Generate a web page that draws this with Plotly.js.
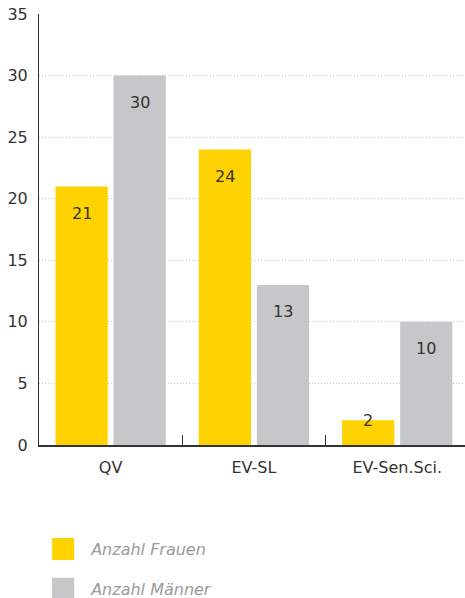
<!DOCTYPE html>
<html>
<head>
<meta charset="utf-8">
<script src="https://cdn.plot.ly/plotly-3.0.1.min.js"></script>
<style>
  html, body { margin: 0; padding: 0; background: #fff; }
  #chart { width: 465px; height: 598px; }
</style>
</head>
<body>
<div id="chart"></div>
<script>
// Participants per programme, split by gender
const categories = ['QV', 'EV-SL', 'EV-Sen.Sci.'];
const frauen = [21, 24, 2];
const maenner = [30, 13, 10];
const seriesNames = ['Anzahl Frauen', 'Anzahl Männer'];
const yTicks = [0, 5, 10, 15, 20, 25, 30, 35];

const colors = ['#FFD200', '#C6C7C9'];
const textColor = '#333333';
const baseFont = { family: 'DejaVu Sans, sans-serif', size: 16, color: textColor };

const series = [frauen, maenner];

const traces = series.map((vals, s) => ({
  type: 'bar',
  name: seriesNames[s],
  x: categories,
  y: vals,
  marker: { color: colors[s], line: { width: 0 } },
  legendgroup: 'g' + s,
  hoverinfo: 'skip'
}));

// value labels sitting just under the top of each bar
const annotations = [];
series.forEach((vals, s) => {
  vals.forEach((v, i) => {
    annotations.push({
      x: categories[i], y: v, xref: 'x', yref: 'y',
      xshift: s === 0 ? -29 : 29,
      yshift: v >= 5 ? -27 : 0,
      text: String(v),
      showarrow: false,
      font: baseFont
    });
  });
});

const layout = {
  width: 465,
  height: 598,
  margin: { l: 39, r: 0, t: 14, b: 153, autoexpand: false },
  paper_bgcolor: '#ffffff',
  plot_bgcolor: '#ffffff',
  font: baseFont,
  barmode: 'group',
  bargap: 0.19,
  bargroupgap: 0.1,
  showlegend: true,
  legend: {
    orientation: 'v',
    x: -0.009,
    xanchor: 'left',
    y: -0.202,
    yanchor: 'top',
    font: { family: 'DejaVu Sans, sans-serif', size: 16, color: '#9a9a9a', style: 'italic' },
    tracegroupgap: 16,
    itemwidth: 46,
    bgcolor: 'rgba(0,0,0,0)'
  },
  xaxis: {
    type: 'category',
    range: [-0.5, 2.473],
    showline: true,
    linecolor: textColor,
    linewidth: 2,
    ticks: 'inside',
    ticklen: 10,
    tickwidth: 1,
    tickcolor: textColor,
    tickson: 'boundaries',
    showgrid: false,
    zeroline: false,
    ticklabelstandoff: 7,
    tickfont: baseFont,
    fixedrange: true
  },
  yaxis: {
    range: [0, 35],
    tickvals: yTicks,
    ticktext: yTicks.map(String),
    showline: true,
    linecolor: textColor,
    linewidth: 1,
    ticks: '',
    showgrid: true,
    gridcolor: '#c8c8c8',
    gridwidth: 1,
    griddash: '1px,2px',
    zeroline: false,
    ticklabelstandoff: 7,
    tickfont: baseFont,
    fixedrange: true
  },
  annotations: annotations
};

Plotly.newPlot('chart', traces, layout, { displayModeBar: false, staticPlot: true }).then(gd => {
  // enlarge the legend swatches to 22px squares
  gd.querySelectorAll('.legendpoints path').forEach(p => {
    p.setAttribute('d', 'M11,11H-11V-11H11Z');
  });
});
</script>
</body>
</html>
